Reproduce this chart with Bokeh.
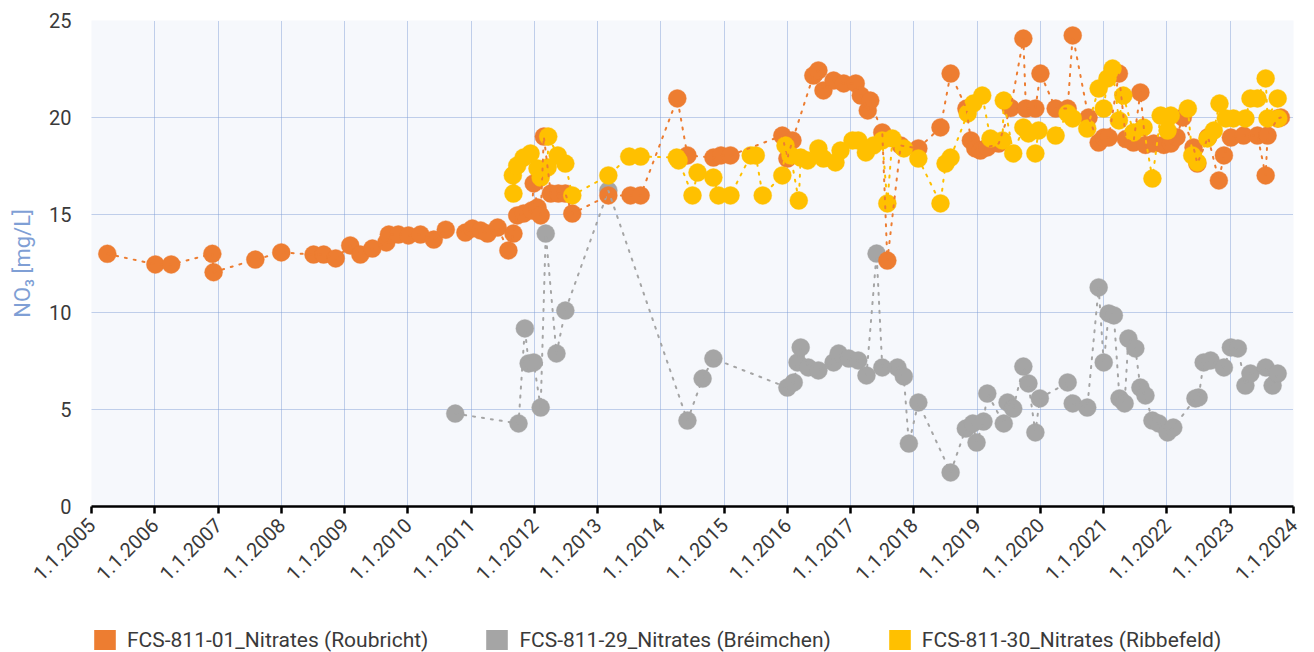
import math
from bokeh.plotting import figure
from bokeh.layouts import column
from bokeh.models import FixedTicker, Legend, LegendItem
from bokeh.embed import file_html
from bokeh.resources import INLINE

# ---- data (decimal year, NO3 mg/L) ----
roub_year = [2005.25, 2006.01, 2006.26, 2006.91, 2006.93, 2007.59, 2008.00, 2008.51, 2008.67, 2008.86,
             2009.09, 2009.25, 2009.44, 2009.66, 2009.70, 2009.85, 2010.01, 2010.20, 2010.41, 2010.60,
             2010.91, 2011.02, 2011.15, 2011.26, 2011.42, 2011.59, 2011.67, 2011.73, 2011.83, 2011.96,
             2011.99, 2012.05, 2012.10, 2012.15, 2012.26, 2012.38, 2012.49, 2012.60, 2013.17, 2013.52,
             2013.68, 2014.26, 2014.42, 2014.83, 2014.95, 2015.10, 2015.92, 2016.00, 2016.08, 2016.41,
             2016.49, 2016.57, 2016.73, 2016.89, 2017.08, 2017.16, 2017.27, 2017.31, 2017.50, 2017.58,
             2017.79, 2018.07, 2018.42, 2018.58, 2018.83, 2018.90, 2018.97, 2019.05, 2019.16, 2019.34,
             2019.53, 2019.73, 2019.77, 2019.92, 2020.00, 2020.24, 2020.43, 2020.51, 2020.76, 2020.92,
             2021.00, 2021.08, 2021.24, 2021.35, 2021.47, 2021.58, 2021.66, 2021.79, 2021.95, 2022.06,
             2022.15, 2022.25, 2022.42, 2022.48, 2022.65, 2022.82, 2022.90, 2023.01, 2023.21, 2023.43,
             2023.56, 2023.59, 2023.75, 2023.80]
roub_no3 = [13.0, 12.45, 12.45, 13.0, 12.05, 12.7, 13.07, 12.96, 12.96, 12.76,
            13.43, 12.96, 13.27, 13.58, 13.99, 13.99, 13.94, 13.99, 13.73, 14.24,
            14.09, 14.3, 14.2, 14.04, 14.35, 13.17, 14.04, 14.97, 15.07, 15.23,
            16.62, 15.38, 14.97, 19.03, 16.1, 16.1, 16.1, 15.07, 16.0, 16.0,
            16.0, 20.99, 18.06, 17.95, 18.06, 18.06, 19.08, 17.9, 18.83, 22.17,
            22.43, 21.4, 21.91, 21.76, 21.76, 21.14, 20.37, 20.88, 19.24, 12.65,
            18.57, 18.42, 19.5, 22.27, 20.47, 18.83, 18.42, 18.31, 18.47, 18.67,
            20.5, 24.07, 20.47, 20.47, 22.27, 20.47, 20.47, 24.23, 20.01, 18.72,
            18.98, 18.98, 22.27, 18.9, 18.72, 21.3, 18.6, 18.67, 18.6, 18.67,
            19.0, 20.01, 18.47, 17.64, 19.0, 16.77, 18.06, 18.98, 19.08, 19.08,
            17.03, 19.08, 19.96, 20.01]

breim_year = [2010.75, 2011.75, 2011.85, 2011.91, 2011.99, 2012.10, 2012.18, 2012.35, 2012.49, 2013.17,
              2014.42, 2014.66, 2014.83, 2016.00, 2016.10, 2016.16, 2016.21, 2016.33, 2016.49, 2016.73,
              2016.81, 2016.97, 2017.12, 2017.25, 2017.41, 2017.50, 2017.74, 2017.84, 2017.92, 2018.07,
              2018.58, 2018.82, 2018.93, 2018.99, 2019.10, 2019.16, 2019.42, 2019.48, 2019.57, 2019.73,
              2019.81, 2019.92, 2019.99, 2020.43, 2020.51, 2020.74, 2020.92, 2021.00, 2021.08, 2021.16,
              2021.25, 2021.33, 2021.39, 2021.50, 2021.58, 2021.66, 2021.77, 2021.87, 2022.01, 2022.10,
              2022.45, 2022.50, 2022.58, 2022.69, 2022.90, 2023.01, 2023.12, 2023.24, 2023.32, 2023.56,
              2023.67, 2023.75]
breim_no3 = [4.78, 4.27, 9.16, 7.36, 7.41, 5.09, 14.04, 7.87, 10.08, 16.25,
             4.42, 6.58, 7.61, 6.12, 6.38, 7.41, 8.18, 7.15, 7.0, 7.41,
             7.87, 7.61, 7.51, 6.74, 13.01, 7.15, 7.15, 6.69, 3.24, 5.35,
             1.75, 4.01, 4.27, 3.29, 4.37, 5.81, 4.27, 5.35, 5.04, 7.2,
             6.33, 3.81, 5.56, 6.38, 5.3, 5.09, 11.27, 7.41, 9.93, 9.83,
             5.56, 5.3, 8.64, 8.13, 6.12, 5.71, 4.42, 4.27, 3.81, 4.06,
             5.56, 5.61, 7.41, 7.51, 7.15, 8.18, 8.13, 6.22, 6.84, 7.15,
             6.22, 6.84]

ribb_year = [2011.66, 2011.67, 2011.73, 2011.83, 2011.94, 2012.05, 2012.10, 2012.21, 2012.22, 2012.37,
             2012.49, 2012.60, 2013.17, 2013.50, 2013.68, 2014.25, 2014.28, 2014.50, 2014.58, 2014.83,
             2014.91, 2015.10, 2015.42, 2015.50, 2015.61, 2015.92, 2015.97, 2016.05, 2016.18, 2016.21,
             2016.32, 2016.49, 2016.57, 2016.76, 2016.84, 2017.03, 2017.12, 2017.24, 2017.36, 2017.50,
             2017.58, 2017.66, 2017.84, 2018.07, 2018.42, 2018.50, 2018.58, 2018.85, 2018.94, 2019.08,
             2019.21, 2019.40, 2019.42, 2019.57, 2019.73, 2019.81, 2019.92, 2019.97, 2020.24, 2020.43,
             2020.51, 2020.74, 2020.92, 2021.00, 2021.06, 2021.14, 2021.24, 2021.31, 2021.47, 2021.63,
             2021.77, 2021.90, 2022.01, 2022.06, 2022.33, 2022.40, 2022.48, 2022.64, 2022.74, 2022.83,
             2022.93, 2023.05, 2023.24, 2023.32, 2023.43, 2023.56, 2023.59, 2023.75, 2023.76]
ribb_no3 = [17.03, 16.1, 17.54, 17.95, 18.16, 17.39, 16.92, 17.44, 19.03, 18.06,
            17.64, 16.0, 17.03, 18.0, 18.0, 17.95, 17.8, 16.0, 17.18, 16.92,
            16.0, 16.0, 18.06, 18.06, 16.0, 17.03, 18.57, 18.06, 15.74, 17.95,
            17.8, 18.42, 17.9, 17.7, 18.31, 18.83, 18.83, 18.21, 18.57, 18.83,
            15.59, 18.93, 18.42, 17.9, 15.59, 17.64, 17.95, 20.22, 20.73, 21.14,
            18.93, 18.83, 20.88, 18.16, 19.5, 19.19, 18.16, 19.34, 19.08, 20.22,
            19.96, 19.44, 21.5, 20.47, 22.02, 22.53, 19.86, 21.14, 19.24, 19.5,
            16.87, 20.11, 19.34, 20.11, 20.47, 18.06, 17.7, 18.93, 19.34, 20.73,
            19.96, 19.96, 19.96, 20.99, 20.99, 22.02, 19.96, 20.99, 19.96]

series_names = ["FCS-811-01_Nitrates (Roubricht)",
                "FCS-811-29_Nitrates (Bréimchen)",
                "FCS-811-30_Nitrates (Ribbefeld)"]
series_colors = ["#ED7D31", "#A5A5A5", "#FFC000"]
x_ticks = list(range(2005, 2025))
y_ticks = [0, 5, 10, 15, 20, 25]

FONT = "Roboto"
TXT = "#3a3a3a"

# ---------------- main chart ----------------
p = figure(width=1310, height=616, x_range=(2005, 2024), y_range=(0, 25),
           output_backend="svg", toolbar_location=None,
           min_border_left=91, min_border_top=20, min_border_right=17, min_border_bottom=110)
p.background_fill_color = "#F6F8FC"
p.border_fill_color = "white"
p.outline_line_color = None

p.xaxis.ticker = FixedTicker(ticks=x_ticks)
p.xaxis.major_label_overrides = {t: f"1.1.{t}" for t in x_ticks}
p.xaxis.major_label_orientation = math.pi / 4
p.xaxis.axis_line_color = "black"
p.xaxis.axis_line_width = 2.5
p.xaxis.major_tick_line_color = "black"
p.xaxis.major_tick_line_width = 2.5
p.xaxis.major_tick_in = 0
p.xaxis.major_tick_out = 7
p.xaxis.minor_tick_line_color = None
p.xaxis.major_label_text_font = FONT
p.xaxis.major_label_text_font_size = "20px"
p.xaxis.major_label_text_color = TXT
p.xaxis.major_label_standoff = 8

p.yaxis.ticker = FixedTicker(ticks=y_ticks)
p.yaxis.axis_line_color = None
p.yaxis.major_tick_line_color = None
p.yaxis.minor_tick_line_color = None
p.yaxis.major_label_text_font = FONT
p.yaxis.major_label_text_font_size = "20px"
p.yaxis.major_label_text_color = TXT
p.yaxis.major_label_standoff = 14
p.yaxis.axis_label = "NO₃ [mg/L]"
p.yaxis.axis_label_text_font = FONT
p.yaxis.axis_label_text_font_style = "normal"
p.yaxis.axis_label_text_font_size = "22px"
p.yaxis.axis_label_text_color = "#7F9FD5"
p.yaxis.axis_label_standoff = 11

for g in (p.xgrid, p.ygrid):
    g.grid_line_color = "#7C9CD6"
    g.grid_line_dash = "1 1"
    g.grid_line_width = 1
    g.grid_line_alpha = 0.9

data = [(roub_year, roub_no3), (breim_year, breim_no3), (ribb_year, ribb_no3)]

# markers: grey underneath, then orange, then yellow
for idx in (1, 0, 2):
    xs, ys = data[idx]
    p.scatter(xs, ys, size=18, color=series_colors[idx], line_color=series_colors[idx], line_alpha=0.4)
# dotted connecting lines on top
for idx in (1, 0, 2):
    xs, ys = data[idx]
    p.line(xs, ys, line_color=series_colors[idx], line_width=2, line_dash="2 7", line_cap="round")

# ---------------- legend strip ----------------
lg = figure(width=1310, height=36, x_range=(0, 1), y_range=(0, 1),
            output_backend="svg", toolbar_location=None,
            x_axis_location=None, y_axis_location=None,
            min_border_left=91, min_border_right=17, min_border_top=0, min_border_bottom=0)
lg.outline_line_color = None
lg.xgrid.visible = False
lg.ygrid.visible = False
items = []
for name, col in zip(series_names, series_colors):
    r = lg.quad(left=[float("nan")], right=[float("nan")], bottom=[float("nan")], top=[float("nan")],
                fill_color=col, line_color=None)
    items.append(LegendItem(label=name, renderers=[r]))
legend = Legend(items=items, orientation="horizontal", location=(0, 0),
                glyph_width=27, glyph_height=25, label_standoff=9, spacing=55,
                padding=0, margin=0, border_line_color=None, background_fill_alpha=0,
                label_text_font=FONT, label_text_font_size="21px", label_text_color=TXT)
lg.add_layout(legend, "center")

open("out.html", "w").write(file_html(column(p, lg, spacing=0), INLINE))
